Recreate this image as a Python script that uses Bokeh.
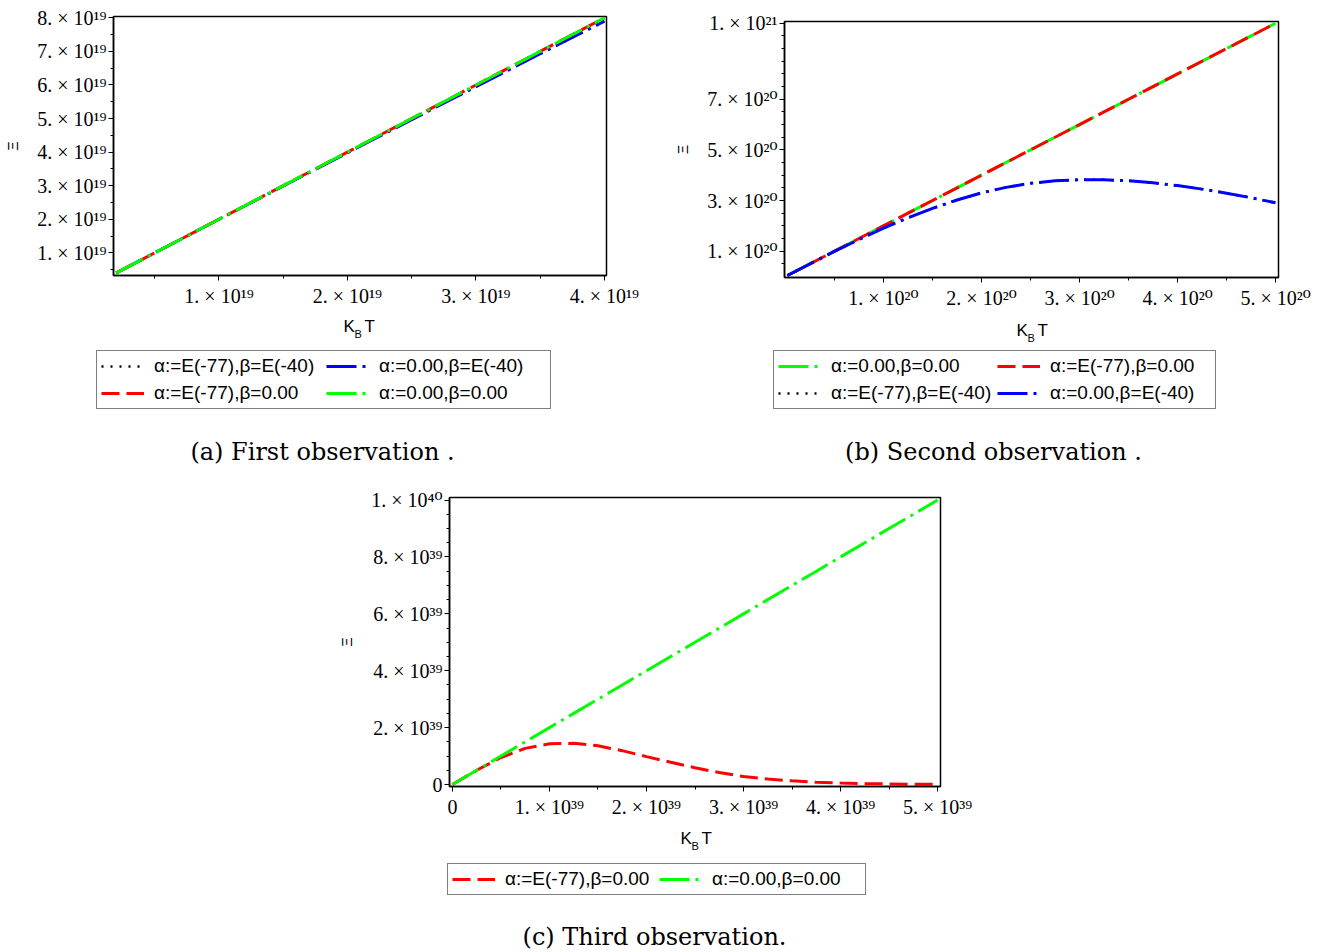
from bokeh.plotting import figure
from bokeh.models import FixedTicker, Legend, LegendItem, Label, Range1d, Spacer
from bokeh.layouts import row, column
from bokeh.embed import file_html
from bokeh.resources import INLINE

# ---------------- data ----------------
# (a) First observation
a_x = [0.2e19, 0.5e19, 1.0e19, 1.5e19, 2.0e19, 2.5e19, 3.0e19, 3.5e19, 4.0e19]
a_black = [0.4e19, 1.0e19, 2.0e19, 2.99e19, 3.98e19, 4.97e19, 5.95e19, 6.93e19, 7.90e19]
a_blue = [0.4e19, 1.0e19, 2.0e19, 2.99e19, 3.98e19, 4.97e19, 5.95e19, 6.93e19, 7.90e19]
a_red = [0.4e19, 1.0e19, 2.0e19, 3.0e19, 4.0e19, 5.0e19, 6.0e19, 7.0e19, 8.0e19]
a_green = [0.4e19, 1.0e19, 2.0e19, 3.0e19, 4.0e19, 5.0e19, 6.0e19, 7.0e19, 8.0e19]
a_xticks = [1e19, 2e19, 3e19, 4e19]
a_xlabels = ["1. × 10¹⁹", "2. × 10¹⁹", "3. × 10¹⁹", "4. × 10¹⁹"]
a_yticks = [1e19, 2e19, 3e19, 4e19, 5e19, 6e19, 7e19, 8e19]
a_ylabels = ["1. × 10¹⁹", "2. × 10¹⁹", "3. × 10¹⁹", "4. × 10¹⁹",
             "5. × 10¹⁹", "6. × 10¹⁹", "7. × 10¹⁹", "8. × 10¹⁹"]

# (b) Second observation
b_x = [0.02e20, 0.25e20, 0.5e20, 0.75e20, 1.0e20, 1.25e20, 1.5e20, 1.75e20, 2.0e20, 2.25e20, 2.5e20,
       2.75e20, 3.0e20, 3.25e20, 3.5e20, 3.75e20, 4.0e20, 4.25e20, 4.5e20, 4.75e20, 5.0e20]
b_green = [0.04e20, 0.5e20, 1.0e20, 1.5e20, 2.0e20, 2.5e20, 3.0e20, 3.5e20, 4.0e20, 4.5e20, 5.0e20,
           5.5e20, 6.0e20, 6.5e20, 7.0e20, 7.5e20, 8.0e20, 8.5e20, 9.0e20, 9.5e20, 10.0e20]
b_red = [0.04e20, 0.5e20, 1.0e20, 1.5e20, 2.0e20, 2.5e20, 3.0e20, 3.5e20, 4.0e20, 4.5e20, 5.0e20,
         5.5e20, 6.0e20, 6.5e20, 7.0e20, 7.5e20, 8.0e20, 8.5e20, 9.0e20, 9.5e20, 10.0e20]
b_black = [0.04e20, 0.50e20, 0.99e20, 1.46e20, 1.91e20, 2.32e20, 2.69e20, 3.02e20, 3.30e20, 3.52e20, 3.68e20,
           3.78e20, 3.82e20, 3.82e20, 3.78e20, 3.70e20, 3.59e20, 3.45e20, 3.29e20, 3.11e20, 2.91e20]
b_blue = [0.04e20, 0.50e20, 0.99e20, 1.46e20, 1.91e20, 2.32e20, 2.69e20, 3.02e20, 3.30e20, 3.52e20, 3.68e20,
          3.78e20, 3.82e20, 3.82e20, 3.78e20, 3.70e20, 3.59e20, 3.45e20, 3.29e20, 3.11e20, 2.91e20]
b_xticks = [1e20, 2e20, 3e20, 4e20, 5e20]
b_xlabels = ["1. × 10²⁰", "2. × 10²⁰", "3. × 10²⁰", "4. × 10²⁰", "5. × 10²⁰"]
b_yticks = [1e20, 3e20, 5e20, 7e20, 1e21]
b_ylabels = ["1. × 10²⁰", "3. × 10²⁰", "5. × 10²⁰", "7. × 10²⁰", "1. × 10²¹"]

# (c) Third observation
c_x = [0.0, 0.25e39, 0.5e39, 0.75e39, 1.0e39, 1.25e39, 1.5e39, 1.75e39, 2.0e39, 2.25e39, 2.5e39,
       2.75e39, 3.0e39, 3.25e39, 3.5e39, 3.75e39, 4.0e39, 4.25e39, 4.5e39, 4.75e39, 5.0e39]
c_red = [0.0, 0.50e39, 0.95e39, 1.27e39, 1.43e39, 1.45e39, 1.36e39, 1.19e39, 0.98e39, 0.78e39, 0.59e39,
         0.42e39, 0.28e39, 0.19e39, 0.13e39, 0.08e39, 0.05e39, 0.03e39, 0.02e39, 0.01e39, 0.01e39]
c_green = [0.0, 0.5e39, 1.0e39, 1.5e39, 2.0e39, 2.5e39, 3.0e39, 3.5e39, 4.0e39, 4.5e39, 5.0e39,
           5.5e39, 6.0e39, 6.5e39, 7.0e39, 7.5e39, 8.0e39, 8.5e39, 9.0e39, 9.5e39, 10.0e39]
c_xticks = [0.0, 1e39, 2e39, 3e39, 4e39, 5e39]
c_xlabels = ["0", "1. × 10³⁹", "2. × 10³⁹", "3. × 10³⁹", "4. × 10³⁹", "5. × 10³⁹"]
c_yticks = [0.0, 2e39, 4e39, 6e39, 8e39, 1e40]
c_ylabels = ["0", "2. × 10³⁹", "4. × 10³⁹", "6. × 10³⁹", "8. × 10³⁹", "1. × 10⁴⁰"]

LBL_BLACK = "α:=E(-77),β=E(-40)"
LBL_RED = "α:=E(-77),β=0.00"
LBL_BLUE = "α:=0.00,β=E(-40)"
LBL_GREEN = "α:=0.00,β=0.00"

STYLE = {
    "black": dict(line_color="black", line_dash="2 7", line_width=2.5),
    "red": dict(line_color="#ff0000", line_dash="18 7", line_width=3),
    "blue": dict(line_color="#0000ff", line_dash="30 6 3 6", line_width=3),
    "green": dict(line_color="#00ff00", line_dash="30 6 3 6", line_width=3),
}

SERIF = "'Liberation Serif', 'DejaVu Serif', serif"
SANS = "Liberation Sans"
NAN = float("nan")


def minor_list(start, stop, step):
    out = []
    v = start
    while v <= stop * 1.0000001:
        out.append(v)
        v += step
    return out


def make_main(width, height, bl, bt, br, bb, xr, yr, xt, xl, yt, yl, xminor, yminor):
    p = figure(width=width, height=height, x_range=Range1d(*xr), y_range=Range1d(*yr),
               output_backend="svg", toolbar_location=None, frame_align=False,
               min_border_left=bl, min_border_top=bt, min_border_right=br, min_border_bottom=bb)
    p.xgrid.visible = False
    p.ygrid.visible = False
    p.outline_line_color = "black"
    p.outline_line_width = 1.5
    p.xaxis.ticker = FixedTicker(ticks=xt, minor_ticks=xminor)
    p.yaxis.ticker = FixedTicker(ticks=yt, minor_ticks=yminor)
    p.xaxis.major_label_overrides = {t: s for t, s in zip(xt, xl)}
    p.yaxis.major_label_overrides = {t: s for t, s in zip(yt, yl)}
    for ax in (p.xaxis[0], p.yaxis[0]):
        ax.axis_line_color = "black"
        ax.axis_line_width = 1.5
        ax.major_tick_out = 5
        ax.major_tick_in = 0
        ax.minor_tick_out = 3
        ax.minor_tick_in = 0
        ax.major_tick_line_color = "black"
        ax.minor_tick_line_color = "black"
        ax.major_label_text_font = SERIF
        ax.major_label_text_font_size = "20px"
        ax.major_label_text_color = "black"
    p.xaxis.major_label_standoff = 4
    p.yaxis.major_label_standoff = 2
    p.yaxis.major_label_text_baseline = "hanging"
    p.yaxis.axis_label = "Ξ"
    p.yaxis.axis_label_text_font = SANS
    p.yaxis.axis_label_text_font_size = "14px"
    p.yaxis.axis_label_text_font_style = "normal"
    p.yaxis.axis_label_text_color = "black"
    p.yaxis.axis_label_standoff = 13
    return p


def make_annot(width, height):
    q = figure(width=width, height=height, x_range=Range1d(0, width), y_range=Range1d(0, height),
               output_backend="svg", toolbar_location=None, min_border=0, frame_align=False,
               x_axis_location=None, y_axis_location=None, outline_line_color=None)
    q.xgrid.visible = False
    q.ygrid.visible = False
    return q


def put(q, x, y, text, size, font, align="left", baseline="alphabetic"):
    q.add_layout(Label(x=x, y=y, text=text, text_font=font, text_font_size=size,
                       text_align=align, text_baseline=baseline, text_color="black"))


def annotate(q, kx, ky, cap_x, cap_y, caption, legend_pairs, leg_loc, label_w):
    put(q, kx, ky, "K", "17px", SANS)
    put(q, kx + 11, ky - 7, "B", "11px", SANS)
    put(q, kx + 21, ky, "T", "17px", SANS)
    put(q, cap_x, cap_y, caption, "24px", "DejaVu Serif", align="center", baseline="middle")
    items = []
    for lbl, key in legend_pairs:
        r = q.line([NAN], [NAN], **STYLE[key])  # legend sample only, nothing drawn
        items.append(LegendItem(label=lbl, renderers=[r]))
    leg = Legend(items=items, location=leg_loc, orientation="horizontal", ncols=2,
                 label_text_font=SANS, label_text_font_size="19px", label_text_color="black",
                 glyph_width=43, glyph_height=20, label_height=20, label_width=label_w,
                 label_standoff=10, spacing=5, padding=4, margin=0,
                 border_line_color="black", border_line_width=1,
                 background_fill_color="white", background_fill_alpha=1.0)
    q.add_layout(leg, "center")


# ---------------- panel (a) ----------------
pa = make_main(669, 315, 113, 16, 63, 40, (0.179e19, 4.016e19), (0.324e19, 8.04e19),
               a_xticks, a_xlabels, a_yticks, a_ylabels,
               minor_list(0.5e19, 4.0e19, 0.5e19), minor_list(0.5e19, 8.0e19, 0.5e19))
pa.line(a_x, a_black, **STYLE["black"])
pa.line(a_x, a_blue, **STYLE["blue"])
pa.line(a_x, a_red, **STYLE["red"])
pa.line(a_x, a_green, **STYLE["green"])
qa = make_annot(669, 153)
annotate(qa, 343, 142, 322, 17, "(a) First observation .",
         [(LBL_BLACK, "black"), (LBL_BLUE, "blue"), (LBL_RED, "red"), (LBL_GREEN, "green")],
         (96, 59), 167)

# ---------------- panel (b) ----------------
pb = make_main(644, 317, 115, 21, 35, 40, (-0.01e20, 5.03e20), (-0.04e20, 1.007e21),
               b_xticks, b_xlabels, b_yticks, b_ylabels,
               minor_list(0.5e20, 5.0e20, 0.5e20), minor_list(0.5e20, 10.0e20, 0.5e20))
pb.line(b_x, b_green, **STYLE["green"])
pb.line(b_x, b_red, **STYLE["red"])
pb.line(b_x, b_black, **STYLE["black"])
pb.line(b_x, b_blue, **STYLE["blue"])
qb = make_annot(644, 151)
annotate(qb, 347, 138, 324, 17, "(b) Second observation .",
         [(LBL_GREEN, "green"), (LBL_RED, "red"), (LBL_BLACK, "black"), (LBL_BLUE, "blue")],
         (104, 59), 161)

# ---------------- panel (c) ----------------
pc = make_main(646, 358, 115, 29, 40, 40, (-0.03e39, 5.03e39), (-0.07e39, 1.009e40),
               c_xticks, c_xlabels, c_yticks, c_ylabels,
               minor_list(0.5e39, 5.0e39, 0.5e39), minor_list(0.5e39, 10.0e39, 0.5e39))
pc.line(c_x, c_red, **STYLE["red"])
pc.line(c_x, c_green, **STYLE["green"])
qc = make_annot(646, 124)
annotate(qc, 346, 112, 320, 14, "(c) Third observation.",
         [(LBL_RED, "red"), (LBL_GREEN, "green")], (113, 55), 149)

layout = column(row(column(pa, qa), column(pb, qb)),
                row(Spacer(width=334, height=10), column(pc, qc)))
open("out.html", "w").write(file_html(layout, INLINE))
